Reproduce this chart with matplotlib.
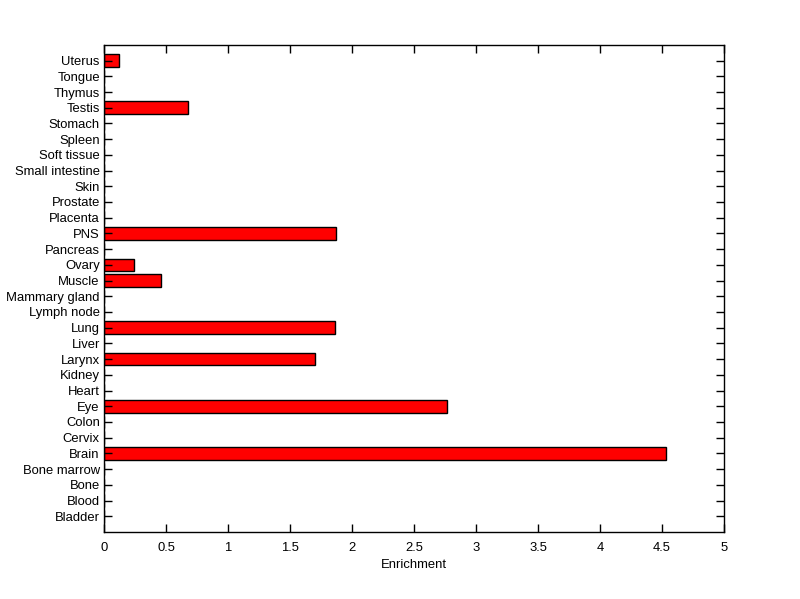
import matplotlib
matplotlib.use("Agg")
import matplotlib.pyplot as plt
import numpy as np

categories = ["Bladder", "Blood", "Bone", "Bone marrow", "Brain", "Cervix", "Colon", "Eye",
              "Heart", "Kidney", "Larynx", "Liver", "Lung", "Lymph node", "Mammary gland",
              "Muscle", "Ovary", "Pancreas", "PNS", "Placenta", "Prostate", "Skin",
              "Small intestine", "Soft tissue", "Spleen", "Stomach", "Testis", "Thymus",
              "Tongue", "Uterus"]
values = [0, 0, 0, 0, 4.53, 0, 0, 2.77,
          0, 0, 1.70, 0, 1.86, 0, 0,
          0.46, 0.24, 0, 1.87, 0, 0, 0,
          0, 0, 0, 0, 0.68, 0,
          0, 0.12]
xticks = [0, 0.5, 1, 1.5, 2, 2.5, 3, 3.5, 4, 4.5, 5]
xticklabels = ["0", "0.5", "1", "1.5", "2", "2.5", "3", "3.5", "4", "4.5", "5"]

plt.rcParams['font.family'] = ['Liberation Sans', 'DejaVu Sans']
fs = 9.4
fig = plt.figure(figsize=(8, 5.99), dpi=100)
ax = fig.add_axes([0.13, 0.1119, 0.775, 0.8132])
pos = np.arange(1, len(categories) + 1)
ax.barh(pos, values, height=0.8, color='#ff0000', edgecolor='black', linewidth=1)
ax.set_ylim(0, len(categories) + 1)
ax.set_xlim(0, 5)
ax.set_yticks(pos)
ax.set_yticklabels(categories, fontsize=fs)
ax.set_xticks(xticks)
ax.set_xticklabels(xticklabels, fontsize=fs)
ax.set_xlabel("Enrichment", fontsize=fs, labelpad=4)
ax.tick_params(direction='in', length=6, width=1, top=True, right=True)
ax.tick_params(axis='x', pad=7)
ax.tick_params(axis='y', pad=3)
for s in ax.spines.values():
    s.set_linewidth(1)
fig.savefig("out.png", dpi=100)
